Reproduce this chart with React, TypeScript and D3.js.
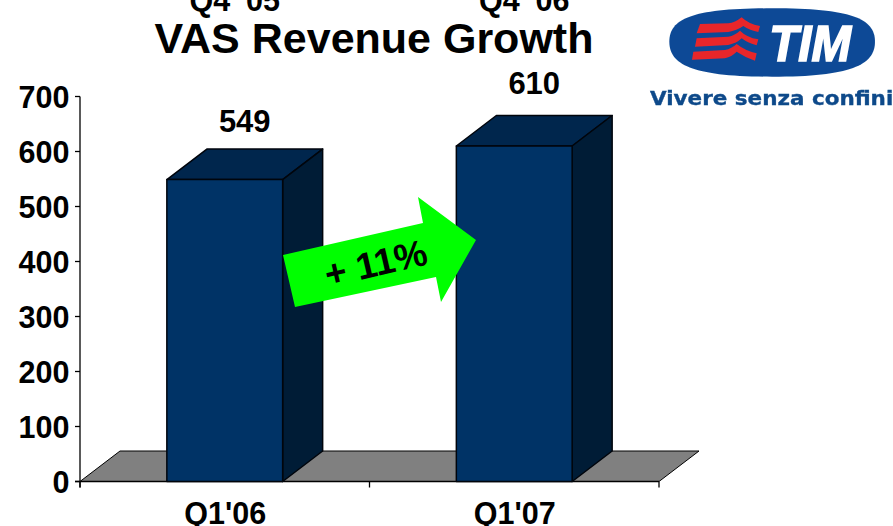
import React from "react";
import * as d3 from "d3";

const categories = ["Q1'06", "Q1'07"];
const revenue = [549, 610];
const yTicks = [0, 100, 200, 300, 400, 500, 600, 700];
const title = "VAS Revenue Growth";
const clippedHeaders = ["Q4 '05", "Q4 '06"];
const growthLabel = "+ 11%";

const W = 893, H = 526;
const font = "'Liberation Sans', Arial, sans-serif";
const DX = 40, DY = -30.5;
const labelGaps = [-17, -22];

const x = d3.scaleBand<string>().domain(categories).range([80, 659]).paddingInner(0.6).paddingOuter(0.3);
const y = d3.scaleLinear().domain([0, 700]).range([481.5, 96.5]);
const stepX = d3.scalePoint<string>().domain(["a", "b", "c"]).range([80, 659]);

const poly = (pts: [number, number][]) => pts.map((p) => p.join(",")).join(" ");

function Bar({ cat, v, gap }: { cat: string; v: number; gap: number }) {
  const x0 = x(cat)!, x1 = x0 + x.bandwidth();
  const yT = y(v), yB = y(0);
  const st = { stroke: "#00050c", strokeWidth: 1.5, strokeLinejoin: "round" as const };
  return (
    <g>
      <polygon points={poly([[x0, yT], [x0 + DX, yT + DY], [x1 + DX, yT + DY], [x1, yT]])} fill="#00264d" {...st} />
      <polygon points={poly([[x1, yT], [x1 + DX, yT + DY], [x1 + DX, yB + DY], [x1, yB]])} fill="#001c36" {...st} />
      <rect x={x0} y={yT} width={x1 - x0} height={yB - yT} fill="#003366" {...st} />
      <text x={x0 + (x1 - x0) / 2 + 20} y={yT + DY + gap} textAnchor="middle" fontSize={31} fontWeight={700} fontFamily={font}>{v}</text>
    </g>
  );
}

function Logo() {
  const red = "#e8262c";
  return (
    <g>
      <defs>
        <filter id="soft" x="-5%" y="-5%" width="110%" height="110%"><feGaussianBlur stdDeviation="0.5" /></filter>
      </defs>
      <g filter="url(#soft)" transform="translate(630,0) scale(0.3333)">
        <path d="M118,125 C118,55 190,25 426,25 C662,25 735,55 735,125 C735,195 662,230 426,230 C190,230 118,195 118,125 Z" fill="#0d4a96" />
        <path d="M210,72 L295,70 Q315,68 335,52 Q355,72 390,78 L385,96 Q360,92 340,78 Q320,92 295,96 L200,100 Z" fill={red} />
        <path d="M200,115 L295,110 Q315,106 330,92 Q350,112 385,118 L380,136 Q355,130 335,115 Q320,130 295,135 L195,140 Z" fill={red} />
        <path d="M190,155 L285,150 Q305,146 320,132 Q345,152 380,160 L375,182 Q345,172 320,155 Q305,170 285,175 L186,179 Z" fill={red} />
        <text x={418} y={182} fontSize={150} fontWeight={700} fontStyle="italic" fontFamily={font} fill="#fff" stroke="#fff" strokeWidth={5} textLength={245} lengthAdjust="spacingAndGlyphs">TIM</text>
        <text x={60} y={315} fontSize={56} fontWeight={700} fontFamily="'DejaVu Sans', sans-serif" fill="#0d4a8a" stroke="#0d4a8a" strokeWidth={1} textLength={730} lengthAdjust="spacingAndGlyphs">Vivere senza confini</text>
      </g>
    </g>
  );
}

export default function App() {
  const y0 = y(0);
  const f = { x0: 80, x1: stepX("c")! };
  return (
    <svg width={W} height={H} viewBox={`0 0 ${W} ${H}`} style={{ position: "absolute", left: 0, top: 0, background: "#fff" }}>
      {clippedHeaders.map((t, i) => (
        <text key={t} x={x(categories[i])! + x.bandwidth() / 2 + 10} y={11} textAnchor="middle" fontSize={30.5} fontWeight={700} fontFamily={font}>{t}</text>
      ))}
      <text x={374} y={53} textAnchor="middle" fontSize={43} fontWeight={700} fontFamily={font}>{title}</text>

      <polygon points={poly([[f.x0, y0], [f.x0 + DX, y0 + DY], [f.x1 + DX, y0 + DY], [f.x1, y0]])} fill="#808080" stroke="#000" strokeWidth={1} />

      <line x1={80} x2={80} y1={y(700)} y2={y0 + 6} stroke="#000" strokeWidth={1.3} />
      <line x1={75} x2={f.x1} y1={y0} y2={y0} stroke="#000" strokeWidth={1.5} />
      {yTicks.map((t) => (
        <g key={t}>
          <line x1={75} x2={80} y1={y(t)} y2={y(t)} stroke="#000" strokeWidth={1.3} />
          <text x={69.5} y={y(t) + 11} textAnchor="end" fontSize={30.5} fontWeight={700} fontFamily={font}>{t}</text>
        </g>
      ))}
      {stepX.domain().map((d) => (
        <line key={d} x1={stepX(d)!} x2={stepX(d)!} y1={y0} y2={y0 + 6} stroke="#000" strokeWidth={1.3} />
      ))}

      {categories.map((c, i) => <Bar key={c} cat={c} v={revenue[i]} gap={labelGaps[i]} />)}

      {categories.map((c) => (
        <text key={c} x={x(c)! + x.bandwidth() / 2 + 0.5} y={524} textAnchor="middle" fontSize={30.5} fontWeight={700} fontFamily={font}>{c}</text>
      ))}

      <polygon points="283,255 423,223 418,197 476,240 441,302 436,277 295,307" fill="#00ff00" />
      <text transform="translate(376,264) rotate(-13)" y={12} textAnchor="middle" fontSize={37} fontWeight={700} fontFamily={font}>{growthLabel}</text>

      <Logo />
    </svg>
  );
}
